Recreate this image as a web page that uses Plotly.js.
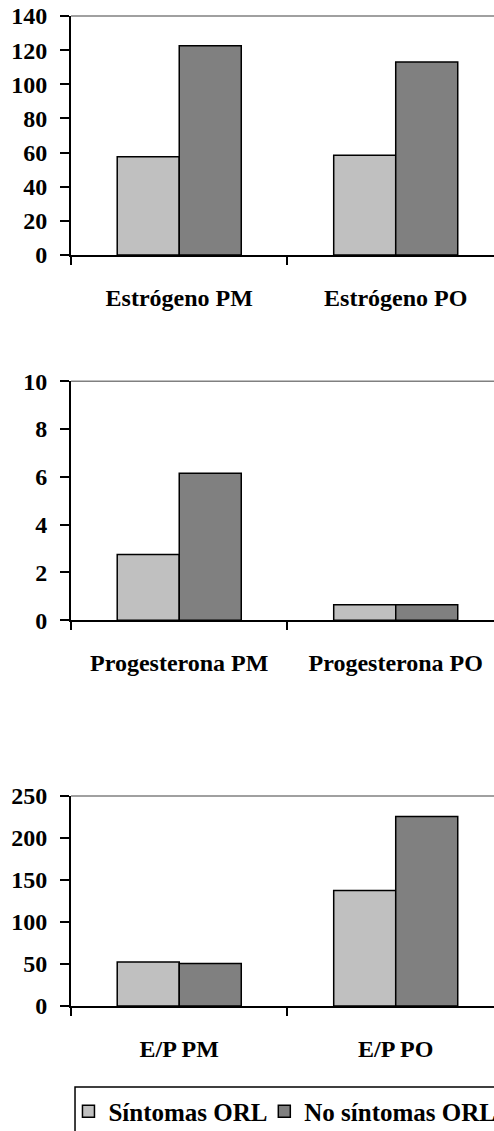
<!DOCTYPE html>
<html>
<head>
<meta charset="utf-8">
<script src="https://cdn.plot.ly/plotly-3.0.1.min.js"></script>
<style>html,body{margin:0;padding:0;background:#fff;}</style>
</head>
<body>
<div id="chart" style="width:494px;height:1131px;"></div>
<script>
// Data
var seriesNames = ['Síntomas ORL', 'No síntomas ORL'];
var catsEstrogeno = ['Estrógeno PM', 'Estrógeno PO'];
var catsProgesterona = ['Progesterona PM', 'Progesterona PO'];
var catsEP = ['E/P PM', 'E/P PO'];
var estrogenoSintomas = [57.5, 58.5];
var estrogenoNoSintomas = [122.5, 113];
var progesteronaSintomas = [2.75, 0.65];
var progesteronaNoSintomas = [6.15, 0.65];
var epSintomas = [52.5, 137.5];
var epNoSintomas = [50.5, 225.5];
var ticksEstrogeno = [0, 20, 40, 60, 80, 100, 120, 140];
var ticksProgesterona = [0, 2, 4, 6, 8, 10];
var ticksEP = [0, 50, 100, 150, 200, 250];

var lightColor = '#C0C0C0';
var darkColor = '#808080';
var FONT = 'Liberation Serif';

function bar(x, y, name, color, xa, ya, show, legendId) {
  return {
    type: 'bar', x: x, y: y, name: name, xaxis: xa, yaxis: ya,
    showlegend: show, legend: legendId,
    marker: {color: color, line: {color: '#000', width: 1.5}},
    hoverinfo: 'x+y'
  };
}

var data = [
  bar(catsEstrogeno, estrogenoSintomas, seriesNames[0], lightColor, 'x', 'y', true, 'legend'),
  bar(catsEstrogeno, estrogenoNoSintomas, seriesNames[1], darkColor, 'x', 'y', true, 'legend2'),
  bar(catsProgesterona, progesteronaSintomas, seriesNames[0], lightColor, 'x2', 'y2', false, 'legend'),
  bar(catsProgesterona, progesteronaNoSintomas, seriesNames[1], darkColor, 'x2', 'y2', false, 'legend2'),
  bar(catsEP, epSintomas, seriesNames[0], lightColor, 'x3', 'y3', false, 'legend'),
  bar(catsEP, epNoSintomas, seriesNames[1], darkColor, 'x3', 'y3', false, 'legend2')
];

var xRange = [-0.5, 1.454];

function tickFont() { return {family: FONT, size: 24, color: '#000', weight: 'bold'}; }

function xaxis(anchor) {
  return {
    anchor: anchor, range: xRange, type: 'category',
    showline: true, linecolor: '#000', linewidth: 2,
    ticks: 'outside', tickson: 'boundaries', ticklen: 8, tickwidth: 2, tickcolor: '#000',
    showgrid: false, zeroline: false,
    tickfont: tickFont(), ticklabelstandoff: 20, fixedrange: true
  };
}
function yaxis(anchor, domain, range, tickvals) {
  return {
    anchor: anchor, domain: domain, range: range, tickvals: tickvals,
    showline: true, linecolor: '#000', linewidth: 2,
    ticks: 'outside', ticklen: 9, tickwidth: 2, tickcolor: '#000',
    showgrid: false, zeroline: false,
    tickfont: tickFont(), ticklabelstandoff: 8, fixedrange: true
  };
}

function topLine(yref) {
  return {type: 'line', xref: 'paper', yref: yref + ' domain', x0: 0, x1: 1, y0: 1, y1: 1,
          line: {color: '#808080', width: 1.5}};
}

function legendBox(x) {
  return {
    orientation: 'h', x: x, xanchor: 'left', y: 0.0375, yanchor: 'top',
    font: {family: FONT, size: 25, color: '#000', weight: 'bold'},
    bgcolor: 'rgba(0,0,0,0)', borderwidth: 0, itemwidth: 30
  };
}

var layout = {
  width: 494, height: 1131,
  font: {family: FONT},
  margin: {l: 71, r: 0, t: 0, b: 0, autoexpand: false},
  paper_bgcolor: '#fff', plot_bgcolor: '#fff',
  barmode: 'group', bargap: 0.427, bargroupgap: 0,
  xaxis: xaxis('y'),
  xaxis2: xaxis('y2'),
  xaxis3: xaxis('y3'),
  yaxis: yaxis('x', [0.7745, 0.9859], [0, 140], ticksEstrogeno),
  yaxis2: yaxis('x2', [0.4516, 0.6629], [0, 10], ticksProgesterona),
  yaxis3: yaxis('x3', [0.1105, 0.2962], [0, 250], ticksEP),
  showlegend: true,
  legend: legendBox(-0.006),
  legend2: legendBox(0.457),
  shapes: [
    topLine('y'), topLine('y2'), topLine('y3'),
    {type: 'rect', xref: 'paper', yref: 'paper', x0: 0.0095, x1: 1.05, y0: 0.0389, y1: -0.05,
     line: {color: '#000', width: 1.5}, fillcolor: 'rgba(0,0,0,0)'}
  ]
};

Plotly.newPlot('chart', data, layout, {displayModeBar: false, staticPlot: true});
</script>
</body>
</html>
